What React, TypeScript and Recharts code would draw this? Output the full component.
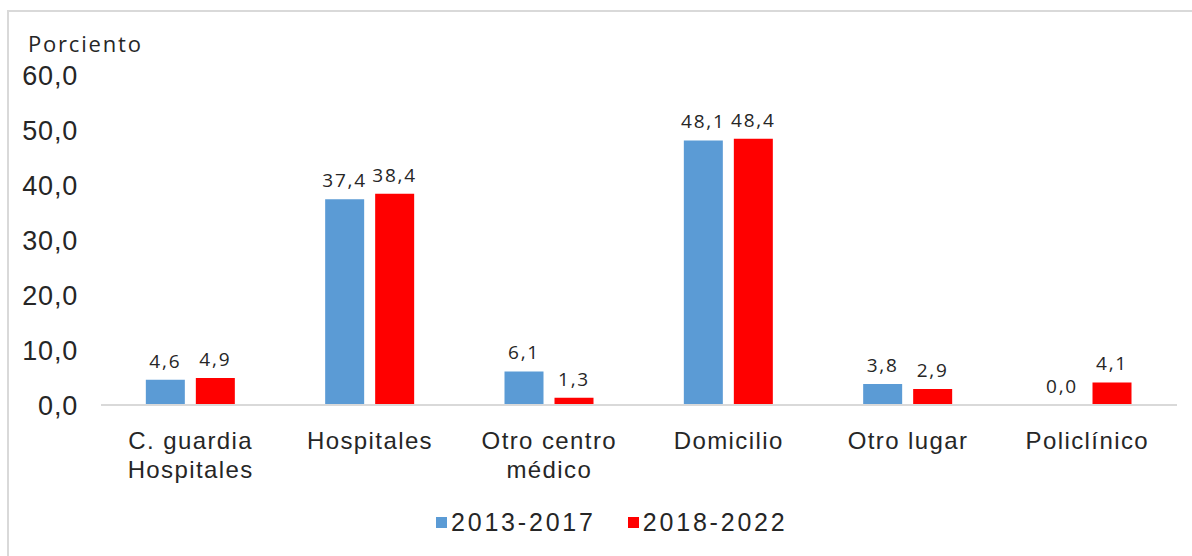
import React from 'react'
import { BarChart, Bar, XAxis, YAxis, LabelList } from 'recharts'

const categories = ['C. guardia\nHospitales', 'Hospitales', 'Otro centro\nmédico', 'Domicilio', 'Otro lugar', 'Policlínico']
const serie2013 = [4.6, 37.4, 6.1, 48.1, 3.8, 0.0]
const serie2018 = [4.9, 38.4, 1.3, 48.4, 2.9, 4.1]
const yTicks = [0, 10, 20, 30, 40, 50, 60]
const seriesNames = ['2013-2017', '2018-2022']

const BLUE = '#5b9bd5'
const RED = '#ff0000'
const TEXT = '#262626'

const data = categories.map((c, i) => ({ name: c, a: serie2013[i], b: serie2018[i] }))

const fmt = (v: number) => v.toFixed(1).replace('.', ',')

// keep zero bars in the list so their "0,0" label still shows
const tinyForZero = (v: any) => (Number(v) === 0 ? 0.01 : 0)

function XTick(props: any) {
  const { x, y, payload } = props
  const lines = String(payload.value).split('\n')
  return (
    <text
      x={x}
      y={y}
      textAnchor="middle"
      fill={TEXT}
      fontFamily="'Liberation Sans', Arial, sans-serif"
      fontSize={24}
      letterSpacing={1.4}
    >
      {lines.map((l, i) => (
        <tspan key={i} x={x} dy={i === 0 ? 36 : 29}>
          {l}
        </tspan>
      ))}
    </text>
  )
}

function ValueLabel(props: any) {
  const { x, y, width, value } = props
  if (value == null) return null
  return (
    <text
      x={Number(x) + Number(width) / 2}
      y={Number(y) - 12}
      textAnchor="middle"
      fill={TEXT}
      fontSize={19}
      fontFamily="'Open Sans', sans-serif"
      letterSpacing={1.8}
    >
      {fmt(Number(value))}
    </text>
  )
}

export default function App() {
  return (
    <div style={{ position: 'absolute', left: 0, top: 0, width: 1192, height: 556, background: '#fff' }}>
      <div
        style={{
          position: 'absolute',
          left: 7,
          top: 10,
          width: 1190,
          height: 560,
          borderLeft: '2px solid #d9d9d9',
          borderTop: '2px solid #d9d9d9',
          boxSizing: 'border-box',
        }}
      />
      <div
        style={{
          position: 'absolute',
          left: 28,
          top: 29,
          fontFamily: "'Open Sans', sans-serif",
          fontSize: 22,
          letterSpacing: 1.8,
          color: TEXT,
          lineHeight: '28px',
        }}
      >
        Porciento
      </div>
      <div style={{ position: 'absolute', left: 0, top: 0 }}>
        <BarChart
          width={1192}
          height={556}
          data={data}
          margin={{ top: 75, right: 15, left: 0, bottom: 61 }}
          barCategoryGap="25%"
          barGap={11}
        >
          <XAxis
            dataKey="name"
            tickLine={false}
            axisLine={{ stroke: '#d9d9d9', strokeWidth: 2 }}
            tick={<XTick />}
            interval={0}
            height={90}
          />
          <YAxis
            width={101}
            domain={[0, 60]}
            ticks={yTicks}
            tickFormatter={fmt}
            axisLine={false}
            tickLine={false}
            tickMargin={17}
            tick={{ fill: TEXT, fontSize: 27, fontFamily: "'Liberation Sans', Arial, sans-serif", letterSpacing: 0.8 }}
          />
          <Bar dataKey="a" fill={BLUE} isAnimationActive={false} minPointSize={tinyForZero}>
            <LabelList dataKey="a" content={<ValueLabel />} />
          </Bar>
          <Bar dataKey="b" fill={RED} isAnimationActive={false} minPointSize={tinyForZero}>
            <LabelList dataKey="b" content={<ValueLabel />} />
          </Bar>
        </BarChart>
      </div>
      <div
        style={{
          position: 'absolute',
          left: 436,
          top: 506,
          display: 'flex',
          alignItems: 'center',
          fontFamily: "'Liberation Sans', Arial, sans-serif",
          fontSize: 25,
          letterSpacing: 2.8,
          color: TEXT,
          lineHeight: '32px',
        }}
      >
        {seriesNames.map((n, i) => (
          <div key={n} style={{ display: 'flex', alignItems: 'center', marginRight: i === 0 ? 32 : 0 }}>
            <span style={{ display: 'inline-block', width: 11, height: 11, background: i === 0 ? BLUE : RED, marginRight: 4 }} />
            {n}
          </div>
        ))}
      </div>
    </div>
  )
}
